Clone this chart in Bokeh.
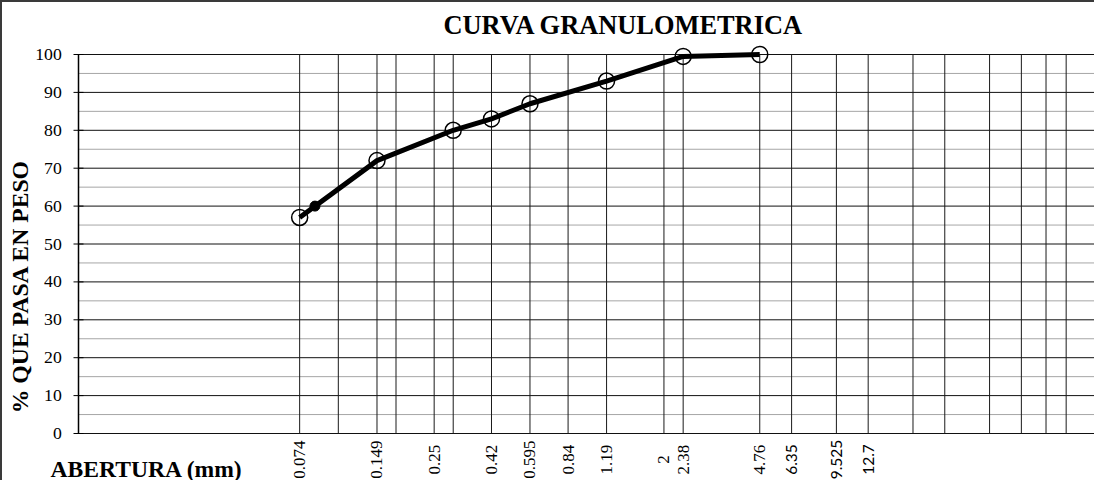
import math
from bokeh.plotting import figure
from bokeh.models import Range1d
from bokeh.core.properties import value
from bokeh.embed import file_html
from bokeh.resources import INLINE

# ---- data ----
abertura = [0.074, 0.149, 0.297, 0.42, 0.595, 1.19, 2.38, 4.76]
pasa = [57, 72, 80, 83, 87, 93, 99.5, 100]
d60_x = [0.085]
d60_y = [60]
sieve_sizes = [0.074, 0.105, 0.149, 0.177, 0.25, 0.297, 0.42, 0.595, 0.84, 1.19,
               2.0, 2.38, 4.76, 6.35, 9.525, 12.7, 19.05, 25.4, 38.1, 50.8, 63.5, 76.2]
label_serif_x = [0.074, 0.149, 0.25, 0.42, 0.595, 0.84, 1.19, 2.0, 2.38, 4.76]
label_serif_text = ["0.074", "0.149", "0.25", "0.42", "0.595", "0.84", "1.19", "2", "2.38", "4.76"]
label_sans_x = [6.35, 9.525, 12.7]
label_sans_text = ["6.35", "9.525", "12.7"]
y_ticks = [0, 10, 20, 30, 40, 50, 60, 70, 80, 90, 100]
y_minor = [5, 15, 25, 35, 45, 55, 65, 75, 85, 95]
x_min, x_max = 0.01, 100
y_min, y_max = 0, 100

SERIF = "Liberation Serif"
SANS = "Lato"

W, H = 1094, 480
# plot-area placement inside the canvas (pixels)
F_LEFT, F_RIGHT, F_TOP, F_BOTTOM = 76.0, 1093.7, 52.0, 431.0
ppd = (F_RIGHT - F_LEFT) / (math.log10(x_max) - math.log10(x_min))
ppu = (F_BOTTOM - F_TOP) / (y_max - y_min)
xr = Range1d(10 ** (math.log10(x_min) - F_LEFT / ppd), 10 ** (math.log10(x_max) + (W - F_RIGHT) / ppd))
yr = Range1d(y_min - (H - F_BOTTOM) / ppu, y_max + F_TOP / ppu)

p = figure(width=W, height=H, x_axis_type="log", x_range=xr, y_range=yr,
           output_backend="svg", toolbar_location=None, min_border=0)
p.styles = {"border-top": "2px solid #3a3a3a", "border-left": "2px solid #3a3a3a"}
p.xaxis.visible = False
p.yaxis.visible = False
p.grid.visible = False
p.outline_line_color = None
p.background_fill_color = "white"
p.border_fill_color = "white"

n_min = len(y_minor)
n_maj = len(y_ticks)
n_sv = len(sieve_sizes)

# horizontal grid
p.segment(x0=[x_min] * n_min, x1=[x_max] * n_min, y0=y_minor, y1=y_minor,
          line_color="#a6a6a6", line_width=1)
p.segment(x0=[x_min] * n_maj, x1=[x_max] * n_maj, y0=y_ticks, y1=y_ticks,
          line_color="#111111", line_width=1)
# vertical grid at sieve openings
p.segment(x0=sieve_sizes, x1=sieve_sizes, y0=[y_min] * n_sv, y1=[y_max] * n_sv,
          line_color="#1a1a1a", line_width=1)
# plot-area frame (left axis line and right edge)
p.segment(x0=[x_max], x1=[x_max], y0=[y_min], y1=[y_max], line_color="#7a7a7a", line_width=1.5)
p.segment(x0=[x_min], x1=[x_min], y0=[y_min], y1=[y_max], line_color="black", line_width=1.5)

# y ticks and labels
p.scatter(x=[x_min] * n_maj, y=y_ticks, marker="dash", size=10, line_color="black", line_width=1)
p.text(x=[x_min] * n_maj, y=y_ticks, text=[str(v) for v in y_ticks], x_offset=-16.7,
       text_align="right", text_baseline="middle", text_font=value(SERIF),
       text_font_size="17.7px", text_color="black")

# x tick labels (vertical)
p.text(x=label_serif_x, y=[y_min] * len(label_serif_x), text=label_serif_text,
       y_offset=26, angle=math.pi / 2, text_align="center", text_baseline="middle",
       text_font=value(SERIF), text_font_size="17px", text_color="black")
p.text(x=label_sans_x, y=[y_min] * len(label_sans_x), text=label_sans_text,
       y_offset=26, angle=math.pi / 2, text_align="center", text_baseline="middle",
       text_font=value(SANS), text_font_size="15.5px", text_color="black")

# data series
p.line(abertura, pasa, line_color="black", line_width=5)
p.scatter(abertura, pasa, marker="circle", size=16, fill_color=None,
          line_color="black", line_width=1.5)
p.scatter(d60_x, d60_y, marker="circle", size=10, fill_color="black", line_color="black")

# titles
p.text(x=[x_min], y=[y_max], text=["CURVA GRANULOMETRICA"], x_offset=365, y_offset=-30,
       text_align="left", text_baseline="middle", text_font=value(SERIF),
       text_font_size="26.4px", text_font_style="bold", text_color="black")
p.text(x=[x_min], y=[y_min], text=["ABERTURA (mm)"], x_offset=-28, y_offset=35,
       text_align="left", text_baseline="middle", text_font=value(SERIF),
       text_font_size="23.6px", text_font_style="bold", text_color="black")
p.text(x=[x_min], y=[38.8], text=["% QUE PASA EN PESO"], x_offset=-59, angle=math.pi / 2,
       text_align="center", text_baseline="middle", text_font=value(SERIF),
       text_font_size="23.7px", text_font_style="bold", text_color="black")

open("out.html", "w").write(file_html(p, INLINE))
